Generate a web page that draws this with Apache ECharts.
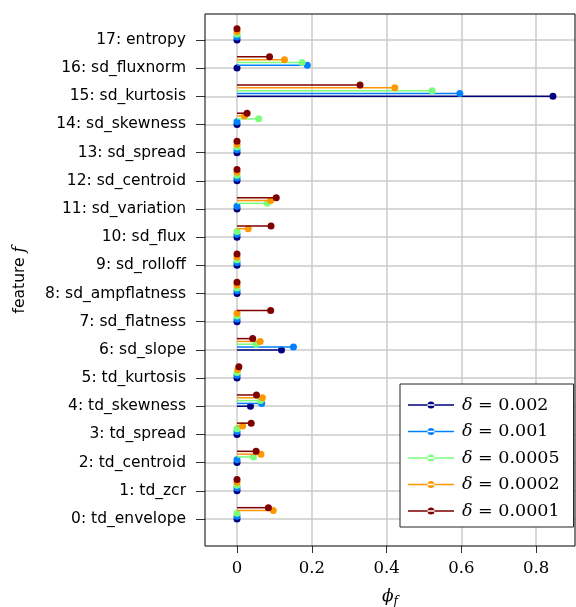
<!DOCTYPE html>
<html><head><meta charset="utf-8">
<script src="https://cdn.jsdelivr.net/npm/echarts@6/dist/echarts.min.js"></script>
<style>html,body{margin:0;padding:0;background:#fff}#c{width:576px;height:607px}</style>
</head><body><div id="c"></div>
<script>
const features = ['td_envelope','td_zcr','td_centroid','td_spread','td_skewness','td_kurtosis','sd_slope','sd_flatness','sd_ampflatness','sd_rolloff','sd_flux','sd_variation','sd_centroid','sd_spread','sd_skewness','sd_kurtosis','sd_fluxnorm','entropy'];
const deltas = ['0.002','0.001','0.0005','0.0002','0.0001'];
const colors = ['#00007f','#0080ff','#7bff7b','#ff9700','#7f0000'];
// values per feature index 0..17
const phi_0002 = [0,0,0,0,0.036,0,0.119,0,0,0,0,0,0,0,0,0.845,0,0];
const phi_0001 = [0,0,0,0,0.066,0,0.151,0,0,0,0,0,0,0,0,0.596,0.188,0];
const phi_00005 = [0,0,0.044,0,0.063,0,0.051,0,0,0,0,0.081,0,0,0.058,0.522,0.174,0];
const phi_00002 = [0.097,0,0.064,0.015,0.068,0.002,0.062,0,0,0,0.030,0.090,0,0,0.020,0.422,0.127,0];
const phi_00001 = [0.084,0,0.051,0.038,0.052,0.005,0.042,0.090,0,0,0.091,0.105,0,0,0.027,0.329,0.087,0];
const seriesValues = [phi_0002, phi_0001, phi_00005, phi_00002, phi_00001];
const xTicks = [0,0.2,0.4,0.6,0.8];
const yTicks = features.map((f,i)=>i);

const chart = echarts.init(document.getElementById('c'));
const serif = 'DejaVu Serif';
const sans = 'DejaVu Sans';
const legendIcon = 'path://M0,4.3H46V5.7H0Z M19.5,5A3.5,3.5 0 1,0 26.5,5A3.5,3.5 0 1,0 19.5,5Z';
const gridLineStyle = {color:'#cbcbcb', width:1.5, type:'solid'};

const series = seriesValues.map((vals,k)=>({
  type:'custom',
  name: deltas[k],
  data: vals.map((v,i)=>[v, i + 0.1*k]),
  encode:{x:0,y:1},
  itemStyle:{color:colors[k]},
  renderItem:function(params, api){
    const v = api.value(0), y = api.value(1);
    const p0 = api.coord([0,y]), p1 = api.coord([v,y]);
    return {type:'group', children:[
      {type:'line', shape:{x1:p0[0],y1:p0[1],x2:p1[0],y2:p1[1]}, style:{stroke:colors[k], lineWidth:1.5}},
      {type:'circle', shape:{cx:p1[0],cy:p1[1],r:3.5}, style:{fill:colors[k]}}
    ]};
  },
  z: 10+k
}));
series[0].markLine = {
  silent:true, z:1, symbol:['none','none'], label:{show:false}, animation:false,
  lineStyle:gridLineStyle, emphasis:{disabled:true},
  data: xTicks.map(v=>({xAxis:v, lineStyle:gridLineStyle})).concat(yTicks.map(v=>({yAxis:v, lineStyle:gridLineStyle})))
};

chart.setOption({
  animation:false,
  grid:{left:205, top:14, width:370, height:532, outerBoundsMode:'none', containLabel:false, show:true, borderColor:'#000', borderWidth:1, backgroundColor:'transparent', z:20},
  xAxis:{type:'value', min:-0.0856, max:0.904,
    axisLine:{show:false, onZero:false},
    axisTick:{show:true, customValues:xTicks, length:7, inside:false, lineStyle:{color:'#333'}},
    axisLabel:{customValues:xTicks, formatter:v=>String(v), fontFamily:serif, fontSize:16.5, color:'#000', margin:14},
    splitLine:{show:false},
    name:'{p|ϕ}{s|f}', nameLocation:'middle', nameGap:40,
    nameTextStyle:{rich:{p:{fontFamily:serif, fontStyle:'italic', fontSize:17, color:'#000'}, s:{fontFamily:serif, fontStyle:'italic', fontSize:12, color:'#000', padding:[10,0,0,0]}}}
  },
  yAxis:{type:'value', min:-0.96, max:17.92,
    axisLine:{show:false, onZero:false},
    axisTick:{show:true, customValues:yTicks, length:9, lineStyle:{color:'#333'}},
    axisLabel:{customValues:yTicks, formatter:v=>v+': '+features[v], fontFamily:sans, fontSize:15.5, color:'#000', margin:19},
    splitLine:{show:false},
    name:'feature {i|f}', nameLocation:'middle', nameGap:177, nameRotate:90,
    nameTextStyle:{fontFamily:sans, fontSize:15.5, color:'#000', rich:{i:{fontFamily:serif, fontStyle:'italic', fontSize:16, color:'#000'}}}
  },
  legend:{
    left:400, top:384, orient:'vertical', backgroundColor:'#fff', borderColor:'#222', borderWidth:1, borderRadius:0,
    padding:[11,14,6,8], itemGap:6.5, itemWidth:46, itemHeight:10, z:30,
    data: deltas.map((d,k)=>({name:d, icon:legendIcon, itemStyle:{color:colors[k]}})),
    formatter: name => '{d|δ} = '+name,
    textStyle:{fontFamily:serif, fontSize:17.5, color:'#000', lineHeight:20, padding:[0,0,0,3], rich:{d:{fontFamily:serif, fontStyle:'italic', fontSize:17.5, color:'#000'}}}
  },
  series: series
});
</script></body></html>
